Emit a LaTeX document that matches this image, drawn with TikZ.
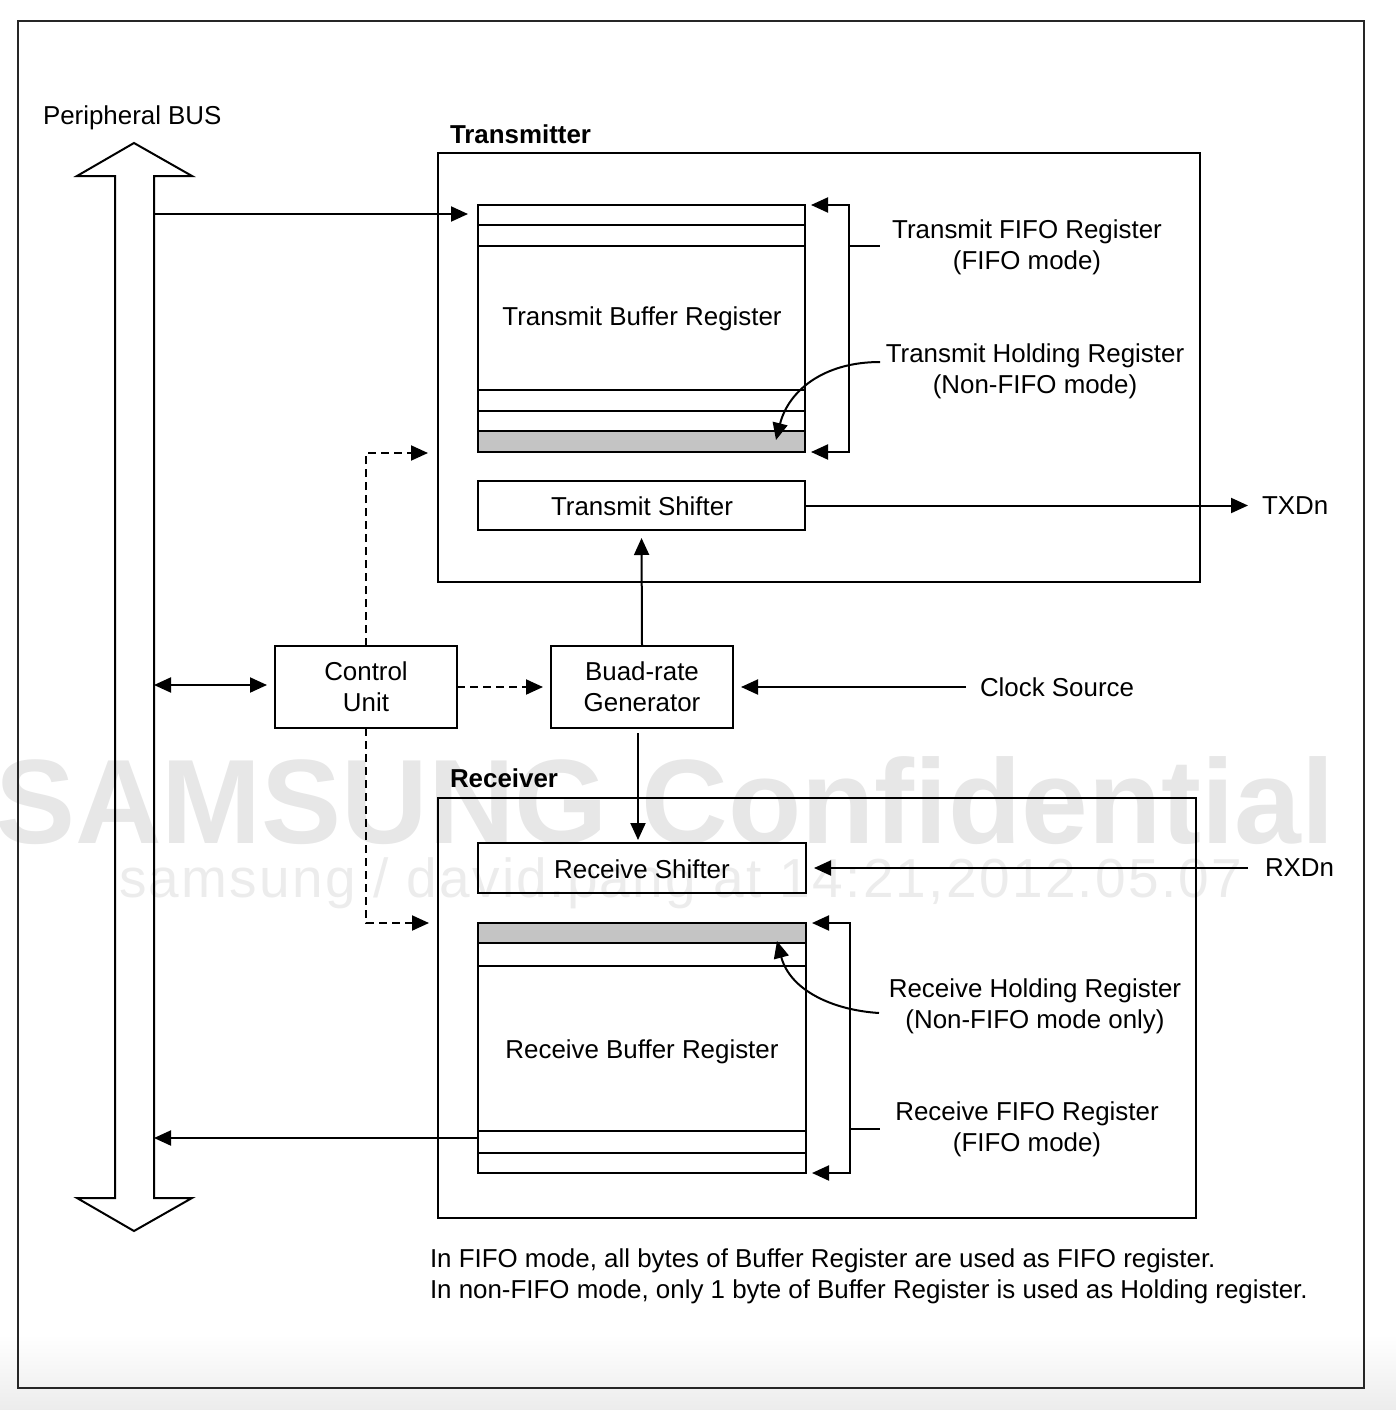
\documentclass[tikz,border=0pt]{standalone}
\usepackage{fontspec}
\setmainfont{Liberation Sans}
\newfontfamily\wmfont[LetterSpace=4.2]{Liberation Sans}
\usetikzlibrary{arrows.meta,calc}
\definecolor{shd}{RGB}{196,196,196}
\definecolor{wm}{RGB}{231,231,231}
\definecolor{wmb}{RGB}{236,236,236}
\definecolor{bgband}{RGB}{236,236,236}
\begin{document}
\begin{tikzpicture}[x=1pt,y=-1pt,
  line width=2pt,
  box/.style={draw, line width=2pt, inner sep=0pt, outer sep=0pt},
  lbl/.style={font=\fontsize{25.9}{31}\selectfont, align=center, inner sep=0pt, outer sep=0pt},
  ttl/.style={font=\bfseries\fontsize{25.9}{31}\selectfont, inner sep=0pt, outer sep=0pt},
  arr/.style={line width=2pt, -{Triangle[length=17pt,width=15pt]}},
  arrboth/.style={line width=2pt, {Triangle[length=17pt,width=15pt]}-{Triangle[length=17pt,width=15pt]}},
  dsh/.style={arr, dash pattern=on 8pt off 5pt}]
\useasboundingbox (0,0) rectangle (1396,1410);
% background band at the bottom
\shade[top color=white, bottom color=bgband] (0,1335) rectangle (1396,1410);
% watermark
\node[anchor=base west, text=wm, font=\bfseries\fontsize{120}{120}\selectfont, inner sep=0pt] (wm1) at (-6,843) {SAMSUNG Confidential};
\node[anchor=base west, text=wmb, font=\wmfont\fontsize{55}{55}\selectfont, inner sep=0pt] (wm2) at (118,897) {samsung / david.pang at 14:21,2012.05.07};
% outer frame
\draw[line width=2pt, black!85] (18,21) rectangle (1364,1388);
% peripheral bus double arrow
\draw[line width=2pt] (134,143) -- (192,176) -- (154,176) -- (154,1198) -- (192,1198) -- (134,1231) -- (77,1198) -- (115,1198) -- (115,176) -- (77,176) -- cycle;
\node[lbl, anchor=west] (pbus) at (43,118) {Peripheral BUS};
\coordinate (bustx) at (154,214);
\coordinate (buscu) at (154,685);
\coordinate (busrx) at (154,1138);

% transmitter
\node[ttl, anchor=west] (txttl) at (450,134) {Transmitter};
\node[box, minimum width=762pt, minimum height=429pt] (tx) at (819,367.5) {};
\fill[shd] (478,431) rectangle (805,452);
\node[box, minimum width=327pt, minimum height=247pt] (tbuf) at (641.5,328.5) {};
\draw (478,225) -- (805,225);
\draw (478,246) -- (805,246);
\draw (478,390) -- (805,390);
\draw (478,411) -- (805,411);
\draw (478,431) -- (805,431);
\node[lbl] (tbuftxt) at (642,319) {Transmit Buffer Register};
\node[box, minimum width=327pt, minimum height=49pt] (tshift) at (641.5,505.5) {};
\node[lbl] (tshifttxt) at (642,506) {Transmit Shifter};

\draw[arrboth, shorten <=6pt, shorten >=6pt] (tbuf.north east) -- ++(44,0) |- (tbuf.south east);
\coordinate (tfb) at (849,246);
\coordinate (tfe) at (880,246);
\draw (tfb) -- (tfe);
\node[lbl] (tfifo) at (1027,247) {Transmit FIFO Register\\(FIFO mode)};
\node[lbl] (thold) at (1035,371) {Transmit Holding Register\\(Non-FIFO mode)};
\coordinate (ths) at (880,362);
\coordinate (the) at (776,440);
\draw[arr] (ths) .. controls (822,362) and (788,392) .. (the);

% control unit and baud-rate generator
\node[box, minimum width=182pt, minimum height=82pt, lbl] (cu) at (366,687) {Control\\Unit};
\node[box, minimum width=182pt, minimum height=82pt, lbl] (baud) at (642,687) {Buad-rate\\Generator};
\node[lbl, anchor=west] (clk) at (980,687) {Clock Source};

\coordinate (txdash) at (428,453);
\coordinate (rxdash) at (429,923);
\draw[dsh] (cu.north) |- (txdash);
\draw[dsh] (cu.south) |- (rxdash);
\draw[dsh, shorten >=8pt] (cu.east) -- (baud.west);
\draw[arrboth, shorten >=8pt] (buscu) -- (cu.west |- buscu);
\draw[arr, shorten >=8pt] (baud.north) -- (tshift.south);
\draw[arr, shorten <=14pt, shorten >=8pt] (clk.west) -- (baud.east);

\node[lbl, anchor=west] (txd) at (1262,505.5) {TXDn};
\draw[arr, shorten >=14pt] (tshift.east) -- (txd.west);
\draw[arr, shorten >=10pt] (bustx) -- (tbuf.west |- bustx);

% receiver
\node[ttl, anchor=west] (rxttl) at (450,778) {Receiver};
\node[box, minimum width=758pt, minimum height=420pt] (rx) at (817,1008) {};
\node[box, minimum width=328pt, minimum height=50pt] (rshift) at (642,868) {};
\node[lbl] (rshifttxt) at (642,869) {Receive Shifter};
\fill[shd] (478,923) rectangle (806,943);
\node[box, minimum width=328pt, minimum height=250pt] (rbuf) at (642,1048) {};
\draw (478,943) -- (806,943);
\draw (478,966) -- (806,966);
\draw (478,1131) -- (806,1131);
\draw (478,1153) -- (806,1153);
\node[lbl] (rbuftxt) at (642,1052) {Receive Buffer Register};

\draw[arr, shorten <=5pt, shorten >=3pt] ([xshift=-4pt]baud.south) -- ([xshift=-4pt]rshift.north);
\node[lbl, anchor=west] (rxd) at (1265,868) {RXDn};
\draw[arr, shorten <=17pt, shorten >=8pt] (rxd.west) -- (rshift.east);
\draw[arr] (rbuf.west |- busrx) -- (busrx);

\draw[arrboth, shorten <=6pt, shorten >=6pt] (rbuf.north east) -- ++(44,0) |- (rbuf.south east);
\coordinate (rfb) at (850,1129);
\coordinate (rfe) at (880,1129);
\draw (rfb) -- (rfe);
\node[lbl] (rhold) at (1035,1006) {Receive Holding Register\\(Non-FIFO mode only)};
\node[lbl] (rfifo) at (1027,1129) {Receive FIFO Register\\(FIFO mode)};
\coordinate (rhs) at (879,1013);
\coordinate (rhe) at (777,941);
\draw[arr] (rhs) .. controls (832,1010) and (790,990) .. (rhe);

% note
\node[lbl, align=left, anchor=west] (note) at (430,1276.5) {In FIFO mode, all bytes of Buffer Register are used as FIFO register.\\In non-FIFO mode, only 1 byte of Buffer Register is used as Holding register.};
\end{tikzpicture}
\end{document}
